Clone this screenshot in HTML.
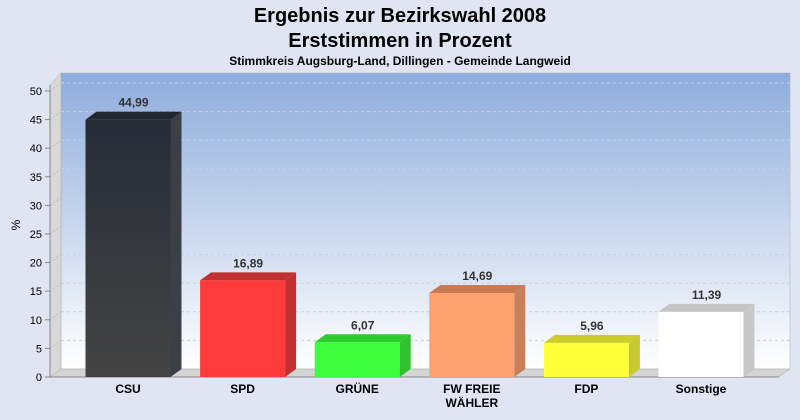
<!DOCTYPE html>
<html><head><meta charset="utf-8"><style>
body{margin:0;background:#dfe5f3;font-family:"Liberation Sans",sans-serif;}
svg{display:block}
</style></head><body>
<svg width="800" height="420">
<defs>
<linearGradient id="wall" x1="0" y1="0" x2="0" y2="1"><stop offset="0" stop-color="#8eacdc"/><stop offset="1" stop-color="#ffffff"/></linearGradient>
<linearGradient id="csu" x1="0" y1="0" x2="0" y2="1"><stop offset="0" stop-color="#262c37"/><stop offset="1" stop-color="#444444"/></linearGradient>
</defs>
<rect width="800" height="420" fill="#dfe5f3"/>
<text x="400" y="22" text-anchor="middle" font-size="20" font-weight="bold" fill="#000">Ergebnis zur Bezirkswahl 2008</text>
<text x="400" y="47" text-anchor="middle" font-size="20" font-weight="bold" fill="#000">Erststimmen in Prozent</text>
<text x="400" y="65" text-anchor="middle" font-size="12" font-weight="bold" fill="#000">Stimmkreis Augsburg-Land, Dillingen - Gemeinde Langweid</text>
<rect x="61" y="73" width="729" height="296" fill="url(#wall)" stroke="#aab" stroke-width="0.5"/>
<polygon points="50,85 61,73 61,369 50,377" fill="#d8d8d8" stroke="#aaa" stroke-width="0.5"/>
<polygon points="50,377 61,369 790,369 779,377" fill="#d4d4d4" stroke="#aaa" stroke-width="0.5"/>
<g id="grid"></g>
<line x1="50" y1="85" x2="50" y2="377" stroke="#888"/>
<line x1="50" y1="377" x2="779" y2="377" stroke="#888"/>
<g id="ticks"></g>
<g id="bars"></g>
<text x="20" y="225" transform="rotate(-90 20 225)" text-anchor="middle" font-size="12" fill="#000">%</text>
<script>
const categories=["CSU","SPD","GRÜNE","FW FREIE|WÄHLER","FDP","Sonstige"];
const values=[44.99,16.89,6.07,14.69,5.96,11.39];
const valueLabels=["44,99","16,89","6,07","14,69","5,96","11,39"];
const colors=["url(#csu)","#ff3a3a","#3aff3a","#ffa070","#ffff3a","#ffffff"];
const sideColors=["#3a3f48","#c43030","#30c030","#c8805a","#c8c830","#c8c8c8"];
const topColors=["#22262e","#c03030","#2ccc2c","#c87a55","#cccc2c","#c4c4c4"];
const yTicks=[0,5,10,15,20,25,30,35,40,45,50];
const NS="http://www.w3.org/2000/svg";
const y0=377,ppu=286/50,dx=11,dy=8;
const yS=v=>y0-v*ppu;
const xC=i=>128+i*114.6;
function mk(tag,attrs,parent){const e=document.createElementNS(NS,tag);for(const k in attrs)e.setAttribute(k,attrs[k]);parent.appendChild(e);return e;}
const grid=document.getElementById('grid'),ticks=document.getElementById('ticks'),bars=document.getElementById('bars');
yTicks.forEach(t=>{
  const y=yS(t);
  if(t>0){const g=mk('line',{x1:61,y1:y-dy,x2:790,y2:y-dy,stroke:'#c8d0e0','stroke-dasharray':'3,3'},grid);
  
  
  const g2=mk('line',{x1:50,y1:y,x2:61,y2:y-dy,stroke:'#bbb','stroke-dasharray':'2,2'},grid);
  
  }
  const tk=mk('line',{x1:45,y1:y,x2:50,y2:y,stroke:'#888'},ticks);
  
  
  const tl=mk('text',{x:42,y:y+4,'text-anchor':'end','font-size':11,fill:'#000'},ticks);
  tl.textContent=t;
  
  
});
values.forEach((v,i)=>{
  const w=85,x=xC(i)-w/2,y=yS(v);
  const g=mk('g',{},bars);
  
  
  mk('polygon',{points:`${x+w},${y} ${x+w+dx},${y-dy} ${x+w+dx},${y0-dy} ${x+w},${y0}`,fill:sideColors[i]},g);
  mk('polygon',{points:`${x},${y} ${x+dx},${y-dy} ${x+w+dx},${y-dy} ${x+w},${y}`,fill:topColors[i]},g);
  mk('rect',{x:x,y:y,width:w,height:y0-y,fill:colors[i]},g);
  const vl=mk('text',{x:xC(i)+dx/2,y:y-dy-5,'text-anchor':'middle','font-size':12,'font-weight':'bold',fill:'#333'},bars);
  vl.textContent=valueLabels[i];
  
  
  const parts=categories[i].split('|');
  parts.forEach((p,j)=>{
    const cl=mk('text',{x:xC(i),y:393+j*14,'text-anchor':'middle','font-size':12,'font-weight':'bold',fill:'#000'},bars);
    cl.textContent=p;
    
    
  });
});
</script>
</svg>
</body></html>
